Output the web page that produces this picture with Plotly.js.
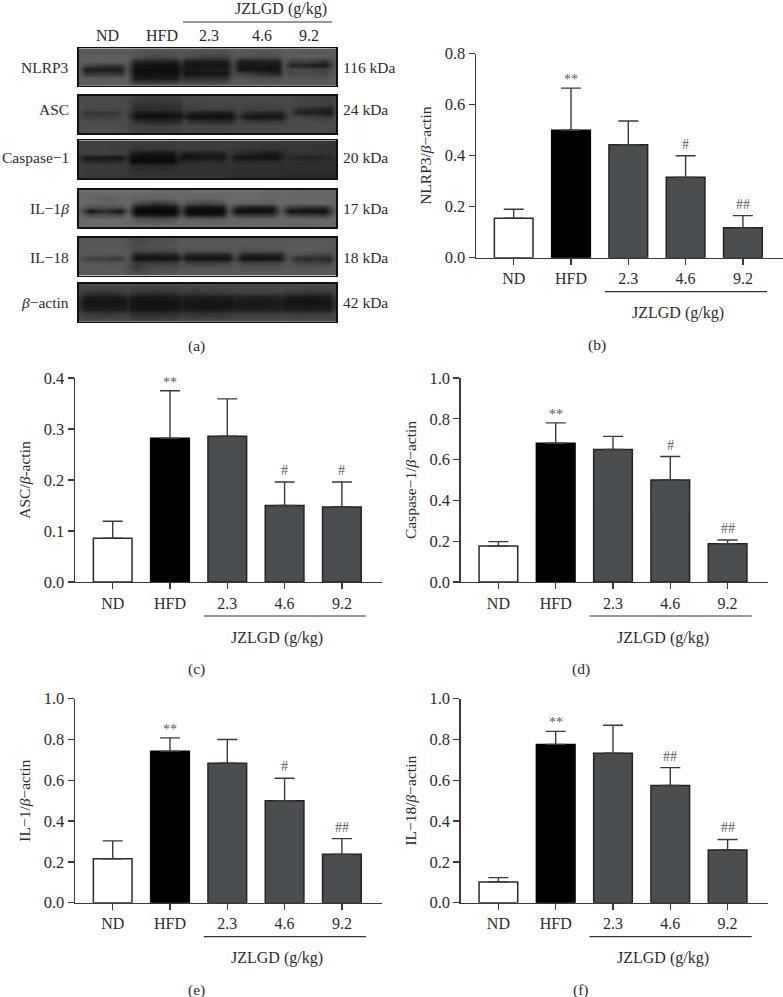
<!DOCTYPE html>
<html>
<head>
<meta charset="utf-8">
<script src="https://cdn.plot.ly/plotly-3.0.1.min.js"></script>
<style>html,body{margin:0;padding:0;background:#fff}</style>
</head>
<body>
<div id="chart" style="width:783px;height:997px"></div>
<script>
// ---------- bar chart data ----------
const groups = ["ND", "HFD", "2.3", "4.6", "9.2"];
const groupPos = [0, 1, 2, 3, 4];
const barColors = ["#ffffff", "#000000", "#4b4e51", "#4b4e51", "#4b4e51"];

const nlrp3Means = [0.155, 0.500, 0.443, 0.315, 0.117];
const nlrp3Tops  = [0.190, 0.665, 0.536, 0.400, 0.165];
const nlrp3Marks = ["", "**", "", "#", "##"];

const ascMeans = [0.086, 0.282, 0.286, 0.150, 0.147];
const ascTops  = [0.119, 0.375, 0.359, 0.196, 0.196];
const ascMarks = ["", "**", "", "#", "#"];

const caspMeans = [0.176, 0.680, 0.650, 0.500, 0.188];
const caspTops  = [0.198, 0.780, 0.714, 0.615, 0.206];
const caspMarks = ["", "**", "", "#", "##"];

const il1Means = [0.215, 0.742, 0.684, 0.500, 0.237];
const il1Tops  = [0.303, 0.808, 0.800, 0.610, 0.314];
const il1Marks = ["", "**", "", "#", "##"];

const il18Means = [0.102, 0.776, 0.733, 0.575, 0.258];
const il18Tops  = [0.123, 0.840, 0.870, 0.662, 0.310];
const il18Marks = ["", "**", "", "##", "##"];

// ---------- western blot densities (gray level per lane column, band row) ----------
const blotRows = [1, 8, 13, 17, 21, 25, 30, 37];

const nlrp3Cols = [0,7,24,41,48,56,76,97,102,107,127,147,154,161,180,199,205,212,229,246,257];
const nlrp3Blot = [
[82,80,80,80,80,78,76,78,80,78,76,78,80,80,80,80,82,82,80,80,84],
[84,84,84,84,84,74,66,70,76,70,62,62,76,76,70,74,84,84,84,84,84],
[84,84,84,84,82,36,30,32,52,30,26,26,70,26,32,30,76,56,60,42,82],
[84,62,52,46,78,18,16,16,34,18,18,18,60,20,20,18,70,30,30,20,80],
[76,26,28,24,70,16,14,14,30,22,26,24,62,20,18,20,68,66,64,62,80],
[84,46,50,46,80,14,14,16,34,18,20,20,66,60,44,30,74,62,70,60,82],
[86,84,84,84,84,24,22,26,50,40,42,44,76,78,72,70,80,78,78,76,84],
[86,84,86,86,86,76,76,78,82,78,78,80,84,84,84,84,84,84,84,84,86]];

const ascCols = [0,6,21,36,46,57,78,100,105,111,131,151,159,167,184,201,210,220,235,251,257];
const ascBlot = [
[66,66,66,66,66,56,54,58,64,64,66,66,66,66,66,66,66,60,60,58,66],
[68,68,68,68,66,46,46,50,62,60,62,62,64,62,62,64,66,62,62,58,68],
[70,64,62,64,66,40,42,44,58,56,60,58,62,58,58,58,64,42,38,30,66],
[64,46,48,50,64,22,22,24,42,28,24,24,58,40,30,32,64,28,30,22,66],
[66,56,58,56,66,14,14,16,30,16,14,14,48,18,18,18,62,62,58,50,66],
[70,68,68,68,68,40,34,36,56,40,36,34,62,50,46,48,66,66,66,64,68],
[70,70,70,70,68,58,56,58,66,64,62,62,66,66,66,66,68,68,68,68,68],
[68,70,70,70,68,60,60,62,66,66,66,66,68,68,68,68,68,68,68,66,66]];

const caspCols = [0,6,23,41,47,53,73,94,99,105,124,143,150,157,177,198,207,216,232,248,257];
const caspBlot = [
[58,58,58,56,56,54,54,54,56,54,54,54,54,52,52,52,50,50,50,50,48],
[58,58,58,56,56,50,50,50,54,54,52,52,52,50,50,48,48,48,48,48,46],
[58,58,58,56,54,26,20,20,44,26,28,28,50,38,30,22,44,48,46,46,46],
[44,22,20,20,40,10,10,10,26,14,18,18,44,16,16,16,40,32,30,34,46],
[52,38,36,38,50,12,10,10,30,36,40,38,48,38,36,36,44,42,40,42,44],
[56,54,54,52,54,36,36,36,44,44,46,46,46,44,44,44,42,42,42,42,42],
[56,50,50,48,50,44,42,44,46,46,46,46,44,42,42,42,42,40,40,40,40],
[54,52,52,52,50,46,46,46,46,44,44,44,42,40,40,40,38,36,36,36,34]];

const il1Cols = [0,11,26,41,49,57,76,95,102,109,126,143,150,158,175,193,202,211,228,245,257];
const il1Blot = [
[96,96,96,96,96,96,94,94,94,94,96,96,96,96,96,94,94,94,92,92,92],
[94,92,84,92,92,90,90,92,94,92,92,92,94,94,94,92,94,92,92,92,92],
[94,92,88,92,92,68,50,60,88,70,62,72,92,90,88,84,92,92,92,92,92],
[92,70,72,66,88,22,12,16,66,22,16,20,80,40,26,30,86,52,46,40,92],
[80,20,38,18,72,8,6,8,50,10,8,10,70,12,10,12,74,14,16,12,84],
[90,58,66,56,88,20,14,16,66,16,14,18,80,44,36,40,86,52,46,40,90],
[96,94,94,94,94,78,70,76,90,84,82,82,92,90,90,90,92,92,92,92,92],
[96,96,96,96,96,94,94,94,96,94,94,94,96,94,92,94,94,90,90,92,92]];

const il18Cols = [0,10,25,40,48,57,76,96,102,109,129,149,156,164,182,200,209,218,234,250,257];
const il18Blot = [
[76,78,78,78,72,62,70,72,78,78,78,78,78,78,78,78,78,78,78,78,76],
[78,78,78,78,74,68,76,76,80,78,80,80,80,78,78,80,80,80,80,80,78],
[80,80,80,80,78,62,64,66,78,70,72,74,80,70,70,72,80,80,80,80,78],
[80,76,76,74,78,28,30,32,60,34,34,34,72,32,32,32,74,68,64,60,78],
[78,56,52,48,76,14,14,16,44,16,16,16,60,14,14,18,70,38,40,34,76],
[80,78,76,76,76,50,50,52,70,54,54,58,76,56,58,60,78,60,58,56,78],
[80,80,80,80,70,50,72,68,78,78,78,78,78,76,76,76,78,78,78,78,78],
[78,80,80,80,76,72,76,78,80,80,80,80,80,80,80,80,80,80,80,80,78]];

const actinCols = [0,6,26,46,49,53,75,98,102,107,129,151,155,159,178,198,202,207,228,250,257];
const actinBlot = [
[66,68,68,68,66,66,66,66,66,66,66,66,68,66,66,66,66,66,66,66,64],
[60,50,46,52,56,48,46,48,52,52,50,54,58,58,56,58,58,54,50,50,62],
[48,26,24,26,36,24,22,24,30,26,24,26,34,30,28,30,34,24,22,24,50],
[40,20,20,20,28,18,18,18,24,20,20,20,26,22,22,22,26,20,18,20,42],
[40,20,20,20,28,18,18,18,22,18,18,18,24,20,20,20,26,20,18,20,44],
[48,26,24,26,34,20,20,20,28,24,22,24,30,26,26,26,32,26,24,26,52],
[62,52,50,54,54,42,42,44,50,46,46,48,54,52,52,54,58,56,52,54,64],
[68,68,68,68,68,62,62,64,66,66,66,66,68,68,68,68,68,68,68,68,66]];

const blotLabels = ["NLRP3", "ASC", "Caspase\u22121", "IL\u22121<i>\u03b2</i>", "IL\u221218", "<i>\u03b2</i>\u2212actin"];
const kdaLabels = ["116 kDa", "24 kDa", "20 kDa", "17 kDa", "18 kDa", "42 kDa"];
const labelRows = [68, 110, 158, 209, 257, 302];
const doseTitle = "JZLGD (g/kg)";

// ---------- layout helpers (page pixels) ----------
const W = 783, H = 997, FONT = "Liberation Serif", INK = "#2b2b2b", AXIS = "#3a3a3a";
const fx = p => p / W;
const fy = p => 1 - p / H;

const panels = [
  {ax: 476,   y0: 257.7, top: 53.7,  max: 0.8, dt: 0.2, means: nlrp3Means, tops: nlrp3Tops, marks: nlrp3Marks, title: "NLRP3/<i>\u03b2</i>\u2212actin",     tag: "(b)", tagX: 597, tagY: 345},
  {ax: 75,    y0: 582,   top: 378,   max: 0.4, dt: 0.1, means: ascMeans,   tops: ascTops,   marks: ascMarks,   title: "ASC/<i>\u03b2</i>-actin",            tag: "(c)", tagX: 197, tagY: 669},
  {ax: 460.7, y0: 582,   top: 378,   max: 1.0, dt: 0.2, means: caspMeans,  tops: caspTops,  marks: caspMarks,  title: "Caspase\u22121/<i>\u03b2</i>\u2212actin", tag: "(d)", tagX: 581, tagY: 669},
  {ax: 75,    y0: 902.7, top: 698.7, max: 1.0, dt: 0.2, means: il1Means,   tops: il1Tops,   marks: il1Marks,   title: "IL\u22121/<i>\u03b2</i>\u2212actin",  tag: "(e)", tagX: 197, tagY: 990},
  {ax: 460.7, y0: 902.7, top: 698.7, max: 1.0, dt: 0.2, means: il18Means,  tops: il18Tops,  marks: il18Marks,  title: "IL\u221218/<i>\u03b2</i>\u2212actin", tag: "(f)", tagX: 581, tagY: 990}
];

const blots = [
  {cols: nlrp3Cols, z: nlrp3Blot, top: 48.3,  bottom: 85.8},
  {cols: ascCols,   z: ascBlot,   top: 95.7,  bottom: 133.2},
  {cols: caspCols,  z: caspBlot,  top: 140.3, bottom: 178},
  {cols: il1Cols,   z: il1Blot,   top: 190,   bottom: 227.2},
  {cols: il18Cols,  z: il18Blot,  top: 237.5, bottom: 275.8},
  {cols: actinCols, z: actinBlot, top: 284,   bottom: 321.8}
];

const txt = (size, color) => ({family: FONT, size: size, color: color || INK});
const data = [];
const shapes = [];
const annotations = [];
const layout = {
  width: W, height: H, margin: {l: 0, r: 0, t: 0, b: 0},
  paper_bgcolor: "#fff", plot_bgcolor: "#fff", showlegend: false,
  font: txt(16), bargap: 0.31
};

panels.forEach((p, i) => {
  const n = i + 1, xn = "x" + n, yn = "y" + n;
  const xk = "xaxis" + n, yk = "yaxis" + n;
  const plotW = 307, plotH = p.y0 - p.top;
  layout[xk] = {
    domain: [fx(p.ax), fx(p.ax + plotW)], anchor: yn, range: [-0.658, 4.70],
    tickmode: "array", tickvals: groupPos, ticktext: groups,
    showline: true, linecolor: AXIS, linewidth: 1.4, ticks: "outside", ticklen: 6,
    tickwidth: 1.3, tickcolor: AXIS, showgrid: false, zeroline: false, tickfont: txt(16)
  };
  layout[yk] = {
    domain: [fy(p.y0), fy(p.top)], anchor: xn, range: [0, p.max], dtick: p.dt, tick0: 0,
    tickformat: ".1f", showline: true, linecolor: AXIS, linewidth: 1.4, ticks: "outside", ticklen: 6,
    tickwidth: 1.3, tickcolor: AXIS, showgrid: false, zeroline: false, tickfont: txt(16.5),
    title: {text: p.title, font: txt(15.5), standoff: 9}
  };
  data.push({
    type: "bar", x: groupPos, y: p.means, xaxis: xn, yaxis: yn, width: 0.675,
    marker: {color: barColors, line: {color: ["#2a2a2a", "#000", "#222", "#222", "#222"], width: 1.5}},
    error_y: {type: "data", symmetric: false, array: p.tops.map((t, k) => +(t - p.means[k]).toFixed(3)),
              arrayminus: groups.map(() => 0), color: AXIS, thickness: 1.4, width: 10}
  });
  p.marks.forEach((m, k) => {
    if (!m) return;
    annotations.push({x: groupPos[k], y: p.tops[k], xref: xn, yref: yn, text: m, showarrow: false,
      xanchor: "center", yanchor: "bottom", yshift: m[0] === "*" ? -1 : 2, font: txt(14, "#5a5a5a")});
  });
  shapes.push({type: "line", xref: xn, yref: yn + " domain", x0: 1.59, x1: 4.42,
    y0: -34 / plotH, y1: -34 / plotH, line: {color: "#333", width: 1.2}});
  annotations.push({x: 2.87, y: -55.5 / plotH, xref: xn, yref: yn + " domain", text: doseTitle,
    showarrow: false, xanchor: "center", yanchor: "middle", font: txt(16)});
  annotations.push({x: fx(p.tagX), y: fy(p.tagY), xref: "paper", yref: "paper", text: p.tag,
    showarrow: false, xanchor: "center", yanchor: "middle", font: txt(15.5)});
});

blots.forEach((b, i) => {
  const n = i + 6, xn = "x" + n, yn = "y" + n;
  layout["xaxis" + n] = {domain: [fx(79), fx(336)], anchor: yn, range: [0, 257], visible: true,
    showticklabels: false, ticks: "", showgrid: false, zeroline: false,
    showline: true, mirror: true, linecolor: "#111", linewidth: 1.6};
  layout["yaxis" + n] = {domain: [fy(b.bottom), fy(b.top)], anchor: xn, range: [38, 0],
    showticklabels: false, ticks: "", showgrid: false, zeroline: false,
    showline: true, mirror: true, linecolor: "#111", linewidth: 1.6};
  data.push({type: "heatmap", x: b.cols, y: blotRows, z: b.z, xaxis: xn, yaxis: yn,
    zmin: 0, zmax: 230, zsmooth: "best", showscale: false,
    colorscale: [[0, "#000000"], [1, "#ffffff"]], hoverinfo: "skip"});
  const mid = fy(labelRows[i]);
  annotations.push({x: fx(71), y: mid, xref: "paper", yref: "paper", text: blotLabels[i],
    showarrow: false, xanchor: "right", yanchor: "middle", font: txt(15.5)});
  annotations.push({x: fx(341), y: mid, xref: "paper", yref: "paper", text: kdaLabels[i],
    showarrow: false, xanchor: "left", yanchor: "middle", font: txt(15.5)});
});

// blot header
const laneX = [107, 162, 209, 262, 309];
groups.forEach((g, k) => annotations.push({x: fx(laneX[k]), y: fy(35.5), xref: "paper", yref: "paper", text: g,
  showarrow: false, xanchor: "center", yanchor: "middle", font: txt(16)}));
annotations.push({x: fx(281), y: fy(9), xref: "paper", yref: "paper", text: doseTitle,
  showarrow: false, xanchor: "center", yanchor: "middle", font: txt(16)});
shapes.push({type: "line", xref: "paper", yref: "paper", x0: fx(183), x1: fx(332), y0: fy(22), y1: fy(22),
  line: {color: "#333", width: 1.2}});
annotations.push({x: fx(196), y: fy(345.5), xref: "paper", yref: "paper", text: "(a)",
  showarrow: false, xanchor: "center", yanchor: "middle", font: txt(15.5)});

layout.shapes = shapes;
layout.annotations = annotations;
Plotly.newPlot("chart", data, layout, {displayModeBar: false, staticPlot: true});
</script>
</body>
</html>
